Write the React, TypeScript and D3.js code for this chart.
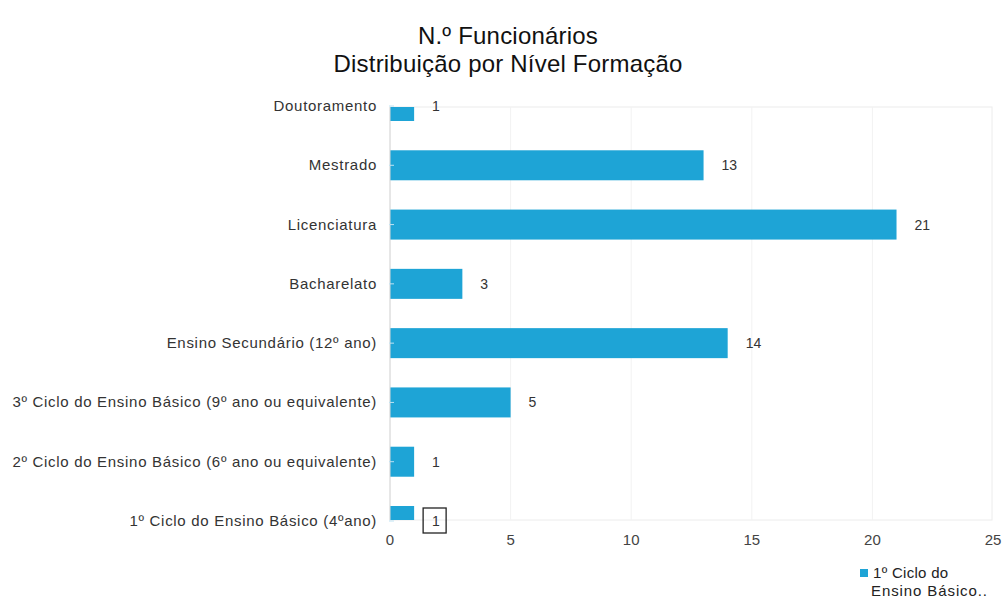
import React, { useEffect, useRef } from "react";
import * as d3 from "d3";

const categories = [
  "Doutoramento",
  "Mestrado",
  "Licenciatura",
  "Bacharelato",
  "Ensino Secundário (12º ano)",
  "3º Ciclo do Ensino Básico (9º ano ou equivalente)",
  "2º Ciclo do Ensino Básico (6º ano ou equivalente)",
  "1º Ciclo do Ensino Básico (4ºano)",
];
const values = [1, 13, 21, 3, 14, 5, 1, 1];
const xTicks = [0, 5, 10, 15, 20, 25];
const titleLines = ["N.º Funcionários", "Distribuição por Nível Formação"];
const legendLines = ["1º Ciclo do", "Ensino Básico.."];

const W = 1003;
const H = 599;
const plot = { left: 390, right: 992, top: 107, bottom: 520 };
const barColor = "#1ea4d6";
const font = "Arial, 'Liberation Sans', sans-serif";

export default function App() {
  const ref = useRef<SVGSVGElement>(null);

  useEffect(() => {
    const svg = d3.select(ref.current);
    svg.selectAll("*").remove();

    const x = d3.scaleLinear().domain([0, 25]).range([plot.left, 993]);
    const y = d3.scalePoint<string>().domain(categories).range([106, 521]);
    const barH = 30;

    // title
    svg
      .append("g")
      .selectAll("text")
      .data(titleLines)
      .enter()
      .append("text")
      .attr("x", 508)
      .attr("y", (d, i) => 44 + i * 28)
      .attr("text-anchor", "middle")
      .attr("font-family", font)
      .attr("font-size", 24)
      .attr("letter-spacing", 0.2)
      .attr("fill", "#111")
      .text((d) => d);

    // plot frame + grid
    svg
      .append("rect")
      .attr("x", plot.left)
      .attr("y", plot.top)
      .attr("width", plot.right - plot.left)
      .attr("height", plot.bottom - plot.top)
      .attr("fill", "none")
      .attr("stroke", "#ececec");

    svg
      .append("g")
      .selectAll("line")
      .data(xTicks.slice(1, -1))
      .enter()
      .append("line")
      .attr("x1", (d) => x(d))
      .attr("x2", (d) => x(d))
      .attr("y1", plot.top)
      .attr("y2", plot.bottom)
      .attr("stroke", "#f2f2f2");

    svg
      .append("defs")
      .append("clipPath")
      .attr("id", "plotclip")
      .append("rect")
      .attr("x", plot.left)
      .attr("y", plot.top)
      .attr("width", plot.right - plot.left)
      .attr("height", plot.bottom - plot.top);

    // bars
    svg
      .append("g")
      .attr("clip-path", "url(#plotclip)")
      .selectAll("rect")
      .data(values)
      .enter()
      .append("rect")
      .attr("x", x(0))
      .attr("y", (d, i) => (y(categories[i]) as number) - barH / 2)
      .attr("width", (d) => x(d) - x(0))
      .attr("height", barH)
      .attr("fill", barColor);

    // y axis line + small ticks
    svg
      .append("line")
      .attr("x1", plot.left)
      .attr("x2", plot.left)
      .attr("y1", plot.top)
      .attr("y2", plot.bottom)
      .attr("stroke", "#d8d8d8");

    svg
      .append("g")
      .selectAll("line")
      .data(categories)
      .enter()
      .append("line")
      .attr("x1", plot.left - 1)
      .attr("x2", plot.left + 4)
      .attr("y1", (d) => y(d) as number)
      .attr("y2", (d) => y(d) as number)
      .attr("stroke", "#bfe3f3");

    svg
      .append("g")
      .selectAll("text")
      .data(categories)
      .enter()
      .append("text")
      .attr("x", 377)
      .attr("y", (d) => (y(d) as number) + 5)
      .attr("text-anchor", "end")
      .attr("font-family", font)
      .attr("font-size", 15)
      .attr("letter-spacing", 0.7)
      .attr("fill", "#333")
      .text((d) => d);

    // value labels
    svg
      .append("g")
      .selectAll("text")
      .data(values)
      .enter()
      .append("text")
      .attr("x", (d) => x(d) + 18)
      .attr("y", (d, i) => (y(categories[i]) as number) + 5)
      .attr("font-family", font)
      .attr("font-size", 14)
      .attr("fill", "#333")
      .text((d) => d);

    // highlight box around last label
    const last = values.length - 1;
    svg
      .append("rect")
      .attr("x", x(values[last]) + 9)
      .attr("y", (y(categories[last]) as number) - 13)
      .attr("width", 23)
      .attr("height", 25)
      .attr("fill", "none")
      .attr("stroke", "#222")
      .attr("stroke-width", 1.3);

    // x ticks
    svg
      .append("g")
      .selectAll("text")
      .data(xTicks)
      .enter()
      .append("text")
      .attr("x", (d) => x(d))
      .attr("y", 545)
      .attr("text-anchor", "middle")
      .attr("font-family", font)
      .attr("font-size", 15)
      .attr("fill", "#444")
      .text((d) => d);

    // legend
    svg
      .append("rect")
      .attr("x", 860)
      .attr("y", 569)
      .attr("width", 8)
      .attr("height", 8)
      .attr("fill", barColor);

    svg
      .append("g")
      .selectAll("text")
      .data(legendLines)
      .enter()
      .append("text")
      .attr("x", (d, i) => (i === 0 ? 873 : 871))
      .attr("y", (d, i) => 578 + i * 18)
      .attr("font-family", font)
      .attr("font-size", 15)
      .attr("letter-spacing", (d, i) => (i === 0 ? 0.3 : 0.9))
      .attr("fill", "#222")
      .text((d) => d);
  }, []);

  return (
    <div>
      <svg
        ref={ref}
        width={W}
        height={H}
        style={{ position: "absolute", left: 0, top: 0, background: "#fff" }}
      ></svg>
    </div>
  );
}
